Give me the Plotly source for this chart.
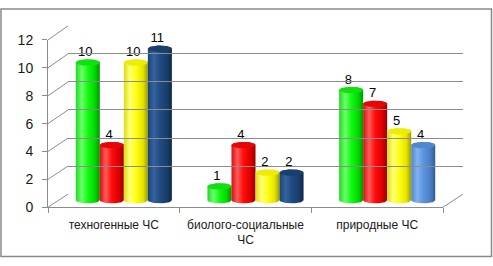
import numpy as np
import plotly.graph_objects as go

# ---------------- data ----------------
categories = ["техногенные ЧС", "биолого-социальные<br>ЧС", "природные ЧС"]
series1 = [10, 1, 8]    # green
series2 = [4, 4, 7]     # red
series3 = [10, 2, 5]    # yellow
series4 = [11, 2, 4]    # blue
y_ticks = [0, 2, 4, 6, 8, 10, 12]

# ---------------- style ----------------
W, H = 493, 266
GRID = "#8c8c8c"
TXT = "#1a1a1a"
FONT = "Liberation Sans, Arial, sans-serif"

grad = {
    "green": [[0, "#22d822"], [0.25, "#6aff6a"], [0.5, "#14fa14"], [0.8, "#00d800"], [1, "#009400"]],
    "red": [[0, "#d81010"], [0.25, "#ff5a5a"], [0.5, "#ff0c0c"], [0.8, "#dc0000"], [1, "#960000"]],
    "yellow": [[0, "#dcdc12"], [0.25, "#ffff78"], [0.5, "#ffff14"], [0.8, "#e4e400"], [1, "#9c9c00"]],
    "dblue": [[0, "#1d4475"], [0.25, "#33639e"], [0.5, "#214c82"], [0.8, "#1a3d6a"], [1, "#0f2745"]],
    "lblue": [[0, "#4f86cc"], [0.25, "#82b3f0"], [0.5, "#5c95de"], [0.8, "#4a7fc4"], [1, "#2f5a92"]],
}
capcol = {"green": "#10e010", "red": "#e60606", "yellow": "#ecec06", "dblue": "#1b3f6d", "lblue": "#5088cf"}

series = [series1, series2, series3, series4]
series_colors = [
    ["green"] * 3,
    ["red"] * 3,
    ["yellow"] * 3,
    ["dblue", "dblue", "lblue"],
]

def fx(p):
    return p / W

def fy(p):
    return 1 - p / H

# pixel geometry of the pseudo-3D box
front_x = (48, 443); front_y0, front_y12 = 212, 34
back_x = (68, 463); back_y0, back_y12 = 198, 19
bar_x = (58, 453)
bar_slope = 14.65
bar_y0 = 204.5
bar_rmin, bar_rmax = -0.5, 12
bar_dom = (fy(bar_y0 + (0 - bar_rmin) * bar_slope), fy(bar_y0 - bar_rmax * bar_slope))

fig = go.Figure()

# invisible trace to register categories on front axis
fig.add_trace(go.Scatter(x=categories, y=[0, 0, 0], xaxis="x", yaxis="y",
                         mode="markers", marker=dict(opacity=0), hoverinfo="skip", showlegend=False))

# back wall grid (axis 3)
fig.add_trace(go.Scatter(x=[0], y=[0], xaxis="x3", yaxis="y3", mode="markers",
                         marker=dict(opacity=0), hoverinfo="skip", showlegend=False))

# cylinders
bargap = 0.27
bw = (1 - bargap) / 4
rx = bw / 2
ry = 3.4 / bar_slope
t_low = np.linspace(np.pi, 2 * np.pi, 30)
t_up = np.linspace(0, np.pi, 30)
t_full = np.linspace(0, 2 * np.pi, 60)

lab_x, lab_y, lab_t = [], [], []
for i, (vals, cols) in enumerate(zip(series, series_colors)):
    for j, v in enumerate(vals):
        xc = j + (i - 1.5) * bw
        xs = list(xc + rx * np.cos(t_low)) + list(xc + rx * np.cos(t_up))
        ys = list(ry * np.sin(t_low)) + list(v + ry * np.sin(t_up))
        fig.add_trace(go.Scatter(
            x=xs + [xs[0]], y=ys + [ys[0]], xaxis="x2", yaxis="y2",
            mode="lines", line=dict(width=0), fill="toself",
            fillgradient=dict(type="horizontal", colorscale=grad[cols[j]]),
            hoverinfo="skip", showlegend=False))
        fig.add_trace(go.Scatter(
            x=list(xc + rx * np.cos(t_full)), y=list(v + ry * np.sin(t_full)),
            xaxis="x2", yaxis="y2", mode="lines", line=dict(width=0),
            fill="toself", fillcolor=capcol[cols[j]],
            hoverinfo="skip", showlegend=False))
        lab_x.append(xc - 0.02)
        lab_y.append(v + ry)
        lab_t.append(str(v))

fig.add_trace(go.Scatter(x=lab_x, y=lab_y, text=lab_t, mode="text", textposition="top center",
                         textfont=dict(family=FONT, size=13, color="#000000"),
                         xaxis="x2", yaxis="y2", hoverinfo="skip", showlegend=False,
                         cliponaxis=False))

# decoration shapes: left wall diagonals, floor right edge, outer border
shapes = []
for v in y_ticks:
    yf = front_y0 - v * (front_y0 - front_y12) / 12
    yb = back_y0 - v * (back_y0 - back_y12) / 12
    shapes.append(dict(type="line", xref="paper", yref="paper",
                       x0=fx(front_x[0]), y0=fy(yf), x1=fx(back_x[0]), y1=fy(yb),
                       line=dict(color=GRID, width=1)))
shapes.append(dict(type="line", xref="paper", yref="paper",
                   x0=fx(front_x[1]), y0=fy(front_y0), x1=fx(back_x[1]), y1=fy(back_y0),
                   line=dict(color=GRID, width=1)))
shapes.append(dict(type="rect", xref="paper", yref="paper",
                   x0=fx(1), y0=fy(264.5), x1=fx(491.5), y1=fy(1),
                   line=dict(color="#8a8a8a", width=1.5)))

fig.update_layout(
    width=W, height=H, autosize=False,
    margin=dict(l=0, r=0, t=0, b=0),
    paper_bgcolor="white", plot_bgcolor="rgba(0,0,0,0)",
    hovermode=False, showlegend=False,
    font=dict(family=FONT, color=TXT),
    shapes=shapes,
    xaxis=dict(domain=[fx(front_x[0]), fx(front_x[1])], type="category",
               categoryarray=categories, range=[-0.5, 2.5],
               showline=True, linecolor=GRID, linewidth=1,
               ticks="outside", tickson="boundaries", ticklen=5, tickcolor=GRID,
               showgrid=False, zeroline=False, ticklabelstandoff=6,
               tickfont=dict(family=FONT, size=12, color=TXT), fixedrange=True),
    yaxis=dict(domain=[fy(front_y0), fy(front_y12)], range=[0, 12], tickvals=y_ticks,
               showline=True, linecolor=GRID, linewidth=1,
               ticks="outside", ticklen=5, tickcolor=GRID,
               showgrid=False, zeroline=False, ticklabelstandoff=6,
               tickfont=dict(family=FONT, size=14, color=TXT), fixedrange=True),
    xaxis2=dict(domain=[fx(bar_x[0]), fx(bar_x[1])], range=[-0.5, 2.5], anchor="y2",
                visible=False, fixedrange=True),
    yaxis2=dict(domain=list(bar_dom), range=[bar_rmin, bar_rmax], anchor="x2",
                visible=False, fixedrange=True),
    xaxis3=dict(domain=[fx(back_x[0]), fx(back_x[1])], range=[0, 1], anchor="y3",
                showgrid=False, zeroline=False, showticklabels=False, ticks="", fixedrange=True),
    yaxis3=dict(domain=[fy(back_y0), fy(back_y12)], range=[0, 12], anchor="x3",
                tickvals=y_ticks, showgrid=True, gridcolor=GRID, gridwidth=1,
                zeroline=False, showticklabels=False, ticks="", showline=False, fixedrange=True,
                layer="below traces"),
)

fig.write_html("out.html", config={"displayModeBar": False},
               post_script="document.body.style.margin='0';document.body.style.overflow='hidden';")
